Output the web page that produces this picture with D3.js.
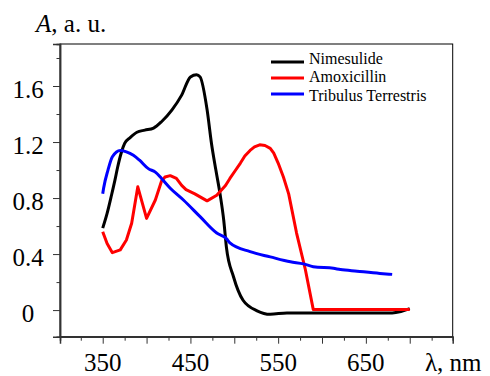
<!DOCTYPE html>
<html>
<head>
<meta charset="utf-8">
<script src="https://cdn.jsdelivr.net/npm/d3@7"></script>
<style>
  body { margin: 0; background: #fff; }
</style>
</head>
<body>
<div id="chart"></div>
<script>
// wavelengths (nm) and absorbance (a. u.)
var nimesulideNm = [350, 355, 360, 364, 367, 371, 375, 381, 389, 398, 408, 417, 429, 440, 450, 457, 461, 469, 474, 479, 484, 488, 491, 499, 510, 526, 541, 560, 600, 640, 680, 690, 700];
var nimesulideA  = [0.585, 0.69, 0.82, 0.93, 1.02, 1.12, 1.19, 1.23, 1.27, 1.285, 1.30, 1.345, 1.43, 1.535, 1.665, 1.68, 1.665, 1.43, 1.19, 1.0, 0.82, 0.64, 0.45, 0.24, 0.07, -0.005, -0.03, -0.02, -0.02, -0.02, -0.02, -0.01, 0.01];

var amoxicillinNm = [350, 355, 361, 370, 377, 383, 390, 400, 410, 417, 421, 427, 434, 440, 445, 455, 469, 480, 490, 495, 501, 507, 512, 518, 523, 529, 535, 541, 545, 550, 556, 562, 571, 581, 590, 700];
var amoxicillinA  = [0.56, 0.475, 0.41, 0.43, 0.5, 0.62, 0.88, 0.655, 0.786, 0.92, 0.95, 0.96, 0.94, 0.89, 0.86, 0.83, 0.78, 0.82, 0.89, 0.94, 0.995, 1.05, 1.10, 1.14, 1.165, 1.18, 1.175, 1.155, 1.12, 1.05, 0.95, 0.83, 0.55, 0.29, 0.005, 0.005];

var tribulusNm = [350, 351, 356, 361, 370, 377, 385, 392, 402, 410, 417, 427, 442, 461, 480, 491, 495, 518, 541, 564, 579, 590, 613, 621, 640, 666, 680];
var tribulusA  = [0.83, 0.87, 1.0, 1.095, 1.14, 1.13, 1.105, 1.07, 1.01, 0.985, 0.94, 0.87, 0.786, 0.667, 0.55, 0.51, 0.48, 0.417, 0.38, 0.345, 0.33, 0.31, 0.298, 0.29, 0.278, 0.262, 0.255];

var seriesNames  = ["Nimesulide", "Amoxicillin", "Tribulus Terrestris"];
var seriesColors = ["#000000", "#ff0000", "#0000ff"];

var xTickLabels = [350, 450, 550, 650];
var yTickLabels = [0, 0.4, 0.8, 1.2, 1.6];

var width = 490, height = 376;
var margin = { top: 44, right: 37.3, bottom: 39.3, left: 60 };
var w = width - margin.left - margin.right,
    h = height - margin.top - margin.bottom;
var serif = "Liberation Serif";

var svg = d3.select("#chart").append("svg")
    .attr("width", width).attr("height", height)
    .attr("font-family", serif);

var g = svg.append("g")
    .attr("transform", "translate(" + margin.left + "," + margin.top + ")");

var x = d3.scaleLinear().domain([301.3, 749]).range([0, w]);
var y = d3.scaleLinear().domain([-0.19, 1.9]).range([h, 0]);

function zip(xs, ys) {
  return xs.map(function(d, i) { return { x: d, y: ys[i] }; });
}
var series = [zip(nimesulideNm, nimesulideA), zip(amoxicillinNm, amoxicillinA), zip(tribulusNm, tribulusA)];

// frame (top & right)
g.append("rect")
    .attr("x", 0).attr("y", 0).attr("width", w).attr("height", h)
    .attr("fill", "none").attr("stroke", "#000").attr("stroke-width", 1);

// axes: major + minor ticks, labels drawn separately
var yMajor = d3.axisLeft(y).tickValues(yTickLabels).tickSize(7).tickFormat("");
var yMinor = d3.axisLeft(y).tickValues([0.2, 0.6, 1.0, 1.4, 1.8]).tickSize(3.5).tickFormat("");
var xMajor = d3.axisBottom(x).tickValues(d3.range(350, 701, 50)).tickSize(7).tickFormat("");
var xMinor = d3.axisBottom(x).tickValues(d3.range(325, 726, 50)).tickSize(4).tickFormat("");

g.append("g").call(yMajor);
g.append("g").call(yMinor);
g.append("g").attr("transform", "translate(0," + h + ")").call(xMajor);
g.append("g").attr("transform", "translate(0," + h + ")").call(xMinor);
g.selectAll(".domain").attr("stroke", "#333").attr("stroke-width", 1.5);
g.selectAll(".tick line").attr("stroke", "#333").attr("stroke-width", 1);

svg.selectAll(".ylab").data(yTickLabels).enter().append("text")
    .attr("class", "ylab")
    .attr("x", 28)
    .attr("y", function(d) { return margin.top + y(d) + 11.5; })
    .attr("text-anchor", "middle")
    .attr("font-family", serif)
    .attr("font-size", 25)
    .text(function(d) { return d === 0 ? "0" : d3.format(".1f")(d); });

svg.selectAll(".xlab").data(xTickLabels).enter().append("text")
    .attr("class", "xlab")
    .attr("x", function(d) { return margin.left + x(d); })
    .attr("y", 371)
    .attr("text-anchor", "middle")
    .attr("font-family", serif)
    .attr("font-size", 25)
    .text(function(d) { return d; });

svg.append("text")
    .attr("x", 425).attr("y", 371)
    .attr("font-family", serif)
    .attr("font-size", 25)
    .text("λ, nm");

var yTitle = svg.append("text")
    .attr("x", 36).attr("y", 32)
    .attr("font-family", serif)
    .attr("font-size", 25);
yTitle.append("tspan").attr("font-style", "italic").text("A");
yTitle.append("tspan").text(", a. u.");

// curves
var smooth = d3.line()
    .x(function(d) { return x(d.x); })
    .y(function(d) { return y(d.y); })
    .curve(d3.curveMonotoneX);
var straight = d3.line()
    .x(function(d) { return x(d.x); })
    .y(function(d) { return y(d.y); });

g.selectAll(".curve").data(series).enter().append("path")
    .attr("class", "curve")
    .attr("d", function(d, i) { return i === 1 ? straight(d) : smooth(d); })
    .attr("fill", "none")
    .attr("stroke", function(d, i) { return seriesColors[i]; })
    .attr("stroke-width", 3)
    .attr("stroke-linejoin", "round");

// legend
var lineY = [62, 78, 94], textY = [63.5, 82, 100.5];
var legend = svg.append("g");
seriesNames.forEach(function(name, i) {
  legend.append("line")
      .attr("x1", 271).attr("x2", 304)
      .attr("y1", lineY[i]).attr("y2", lineY[i])
      .attr("stroke", seriesColors[i]).attr("stroke-width", 3);
  legend.append("text")
      .attr("x", 309).attr("y", textY[i])
      .attr("font-family", serif)
      .attr("font-size", 16)
      .text(name);
});
</script>
</body>
</html>
